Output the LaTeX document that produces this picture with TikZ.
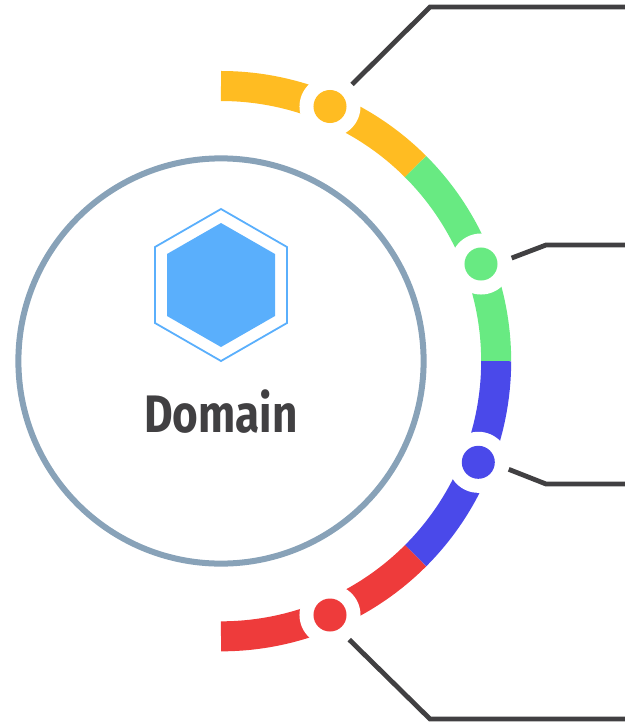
\documentclass[tikz,border=0pt]{standalone}
\usepackage{fontspec}
\setmainfont{Fira Sans}
\newfontfamily\condfont[FakeStretch=0.835]{Fira Sans}
\usetikzlibrary{calc}
\definecolor{ringblue}{HTML}{88A2B8}
\definecolor{hexblue}{HTML}{5AAFFC}
\definecolor{darkline}{HTML}{414042}
\definecolor{segyellow}{HTML}{FFBC22}
\definecolor{seggreen}{HTML}{68EA82}
\definecolor{segblue}{HTML}{4A49EA}
\definecolor{segred}{HTML}{EE3B3B}
\tikzset{
  x=0.01cm,y=-0.01cm,
  seg/.style={line width=0.3cm},
  leader/.style={draw=darkline,line width=0.048cm},
  dotring/.style={circle,fill=white,minimum size=0.61cm,inner sep=0pt},
}
\begin{document}
\begin{tikzpicture}
\useasboundingbox (0,0) rectangle (625,724);
\coordinate (c) at (221,361);
\node[circle,draw=ringblue,line width=0.06cm,minimum size=4.05cm,inner sep=0pt] (domain) at (c) {};
\node[font=\condfont\bfseries\fontsize{15pt}{15pt}\selectfont,text=darkline,inner sep=0pt] (label) at (221,412) {Domain};

% segments of the arc
\draw[seg,segyellow] (221,86) arc[start angle=90,end angle=45,radius=2.75cm] coordinate (a1);
\draw[seg,seggreen] (a1) arc[start angle=45,end angle=0,radius=2.75cm] coordinate (a2);
\draw[seg,segblue] (a2) arc[start angle=0,end angle=-45,radius=2.75cm] coordinate (a3);
\draw[seg,segred] (a3) arc[start angle=-45,end angle=-90,radius=2.75cm];

% hexagons
\draw[hexblue,line width=0.018cm] (221,209) -- (287,247) -- (287,323) -- (221,361) -- (155,323) -- (155,247) -- cycle;
\fill[hexblue] (221,223) -- (275,254) -- (275,316) -- (221,347) -- (167,316) -- (167,254) -- cycle;

\foreach\n/\px/\py/\col in {1/330/106.5/segyellow,2/481/264/seggreen,3/478.3/462.3/segblue,4/330/615/segred}{
  \node[dotring] (r\n) at (\px,\py) {};
  \node[circle,fill=\col,minimum size=0.33cm,inner sep=0pt] (d\n) at (\px,\py) {};
}

\coordinate (k1) at (430,7);
\coordinate (k2) at (546,245);
\coordinate (k3) at (546,484);
\coordinate (k4) at (430,719);
\coordinate (e1) at (625,7);
\coordinate (e2) at (625,245);
\coordinate (e3) at (625,484);
\coordinate (e4) at (625,719);
\draw[leader] (r1.45) -- (k1) -- (e1);
\draw[leader] (r2.11) -- (k2) -- (e2);
\draw[leader] (r3.-13) -- (k3) -- (e3);
\draw[leader] (r4.-52) -- (k4) -- (e4);
\end{tikzpicture}
\end{document}
